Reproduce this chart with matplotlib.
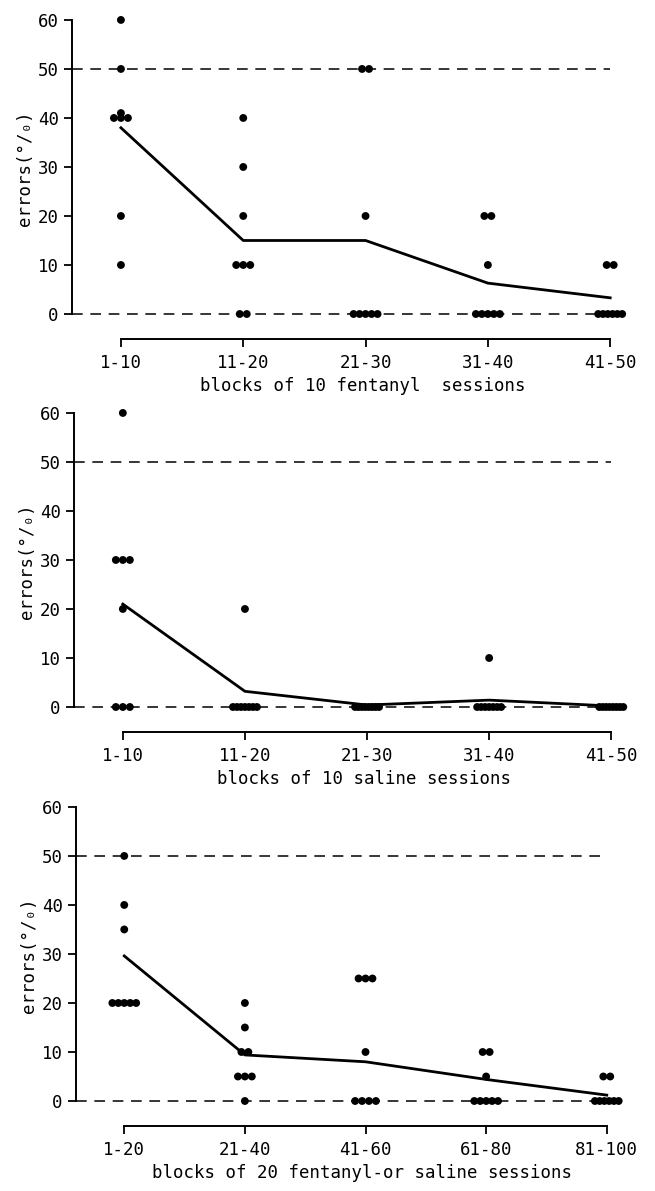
import numpy as np
import matplotlib
matplotlib.use("Agg")
import matplotlib.pyplot as plt

# errors (%) per animal in each block, and the line of block means
fentanyl_blocks = ["1-10", "11-20", "21-30", "31-40", "41-50"]
fentanyl_points = [
    [60, 50, 40, 41, 40, 40, 20, 10],
    [40, 30, 20, 10, 10, 10, 0, 0],
    [50, 50, 20, 0, 0, 0, 0, 0],
    [20, 20, 10, 0, 0, 0, 0, 0],
    [10, 10, 0, 0, 0, 0, 0, 0],
]
fentanyl_mean = [38, 15, 15, 6.3, 3.3]

saline_blocks = ["1-10", "11-20", "21-30", "31-40", "41-50"]
saline_points = [
    [60, 30, 30, 30, 20, 0, 0, 0],
    [20, 0, 0, 0, 0, 0, 0, 0],
    [0, 0, 0, 0, 0, 0, 0, 0],
    [10, 0, 0, 0, 0, 0, 0, 0],
    [0, 0, 0, 0, 0, 0, 0, 0],
]
saline_mean = [21, 3.2, 0.4, 1.4, 0.2]

mixed_blocks = ["1-20", "21-40", "41-60", "61-80", "81-100"]
mixed_points = [
    [50, 40, 35, 20, 20, 20, 20, 20],
    [20, 15, 10, 10, 5, 5, 5, 0],
    [25, 25, 25, 10, 0, 0, 0, 0],
    [10, 10, 5, 0, 0, 0, 0, 0],
    [5, 5, 0, 0, 0, 0, 0, 0],
]
mixed_mean = [29.6, 9.4, 8.0, 4.4, 1.2]

W, H = 655, 1191
plt.rcParams['font.family'] = ['DejaVu Sans Mono', 'DejaVu Sans']
fig = plt.figure(figsize=(W / 100, H / 100), dpi=100)


def add_panel(left, top, right, bottom):
    return fig.add_axes([left / W, 1 - bottom / H, (right - left) / W, (bottom - top) / H])


def draw_panel(ax, blocks, points, means, xlabel, unit_px):
    x = np.arange(len(blocks))
    ax.set_xlim(-0.4, 4.35)
    ax.set_ylim(-2, 61.5)

    # reference lines at 0 and 50 %
    for level in (0, 50):
        ax.plot([-0.4, 4], [level, level], color="black", lw=1.1,
                dashes=(7, 5), zorder=1)

    # individual animals, equal values spread sideways
    for xi, vals in zip(x, points):
        vals = np.array(vals)
        for v in np.unique(vals):
            n = np.sum(vals == v)
            step = min(7.0, 24.0 / max(n - 1, 1)) / unit_px
            offs = (np.arange(n) - (n - 1) / 2) * step
            ax.scatter(xi + offs, np.full(n, v), s=32, color="black",
                       edgecolors="none", zorder=3, clip_on=False)

    ax.plot(x, means, color="black", lw=2.0, zorder=2)

    for s in ("top", "right"):
        ax.spines[s].set_visible(False)
    ax.spines["left"].set_bounds(0, 60)
    ax.spines["left"].set_linewidth(1.4)
    ax.spines["bottom"].set_position(("outward", 11))
    ax.spines["bottom"].set_bounds(0, 4)
    ax.spines["bottom"].set_linewidth(1.4)

    ax.set_yticks(range(0, 61, 10))
    ax.set_xticks(x)
    ax.set_xticklabels(blocks)
    ax.tick_params(axis="both", direction="out", length=6, width=1.3,
                   labelsize=12.5, colors="black")
    ax.tick_params(axis="x", pad=5)
    ax.set_ylabel("errors(°/₀)", fontsize=12.5, labelpad=3)
    ax.set_xlabel(xlabel, fontsize=12.5, labelpad=3)


ax1 = add_panel(72, 12.6, 653, 323.8)
draw_panel(ax1, fentanyl_blocks, fentanyl_points, fentanyl_mean,
           "blocks of 10 fentanyl  sessions", 122.25)

ax2 = add_panel(74, 405.6, 654, 716.8)
draw_panel(ax2, saline_blocks, saline_points, saline_mean,
           "blocks of 10 saline sessions", 122.0)

ax3 = add_panel(76, 799.6, 649, 1110.8)
draw_panel(ax3, mixed_blocks, mixed_points, mixed_mean,
           "blocks of 20 fentanyl-or saline sessions", 121.75)

fig.savefig("out.png", dpi=100)
